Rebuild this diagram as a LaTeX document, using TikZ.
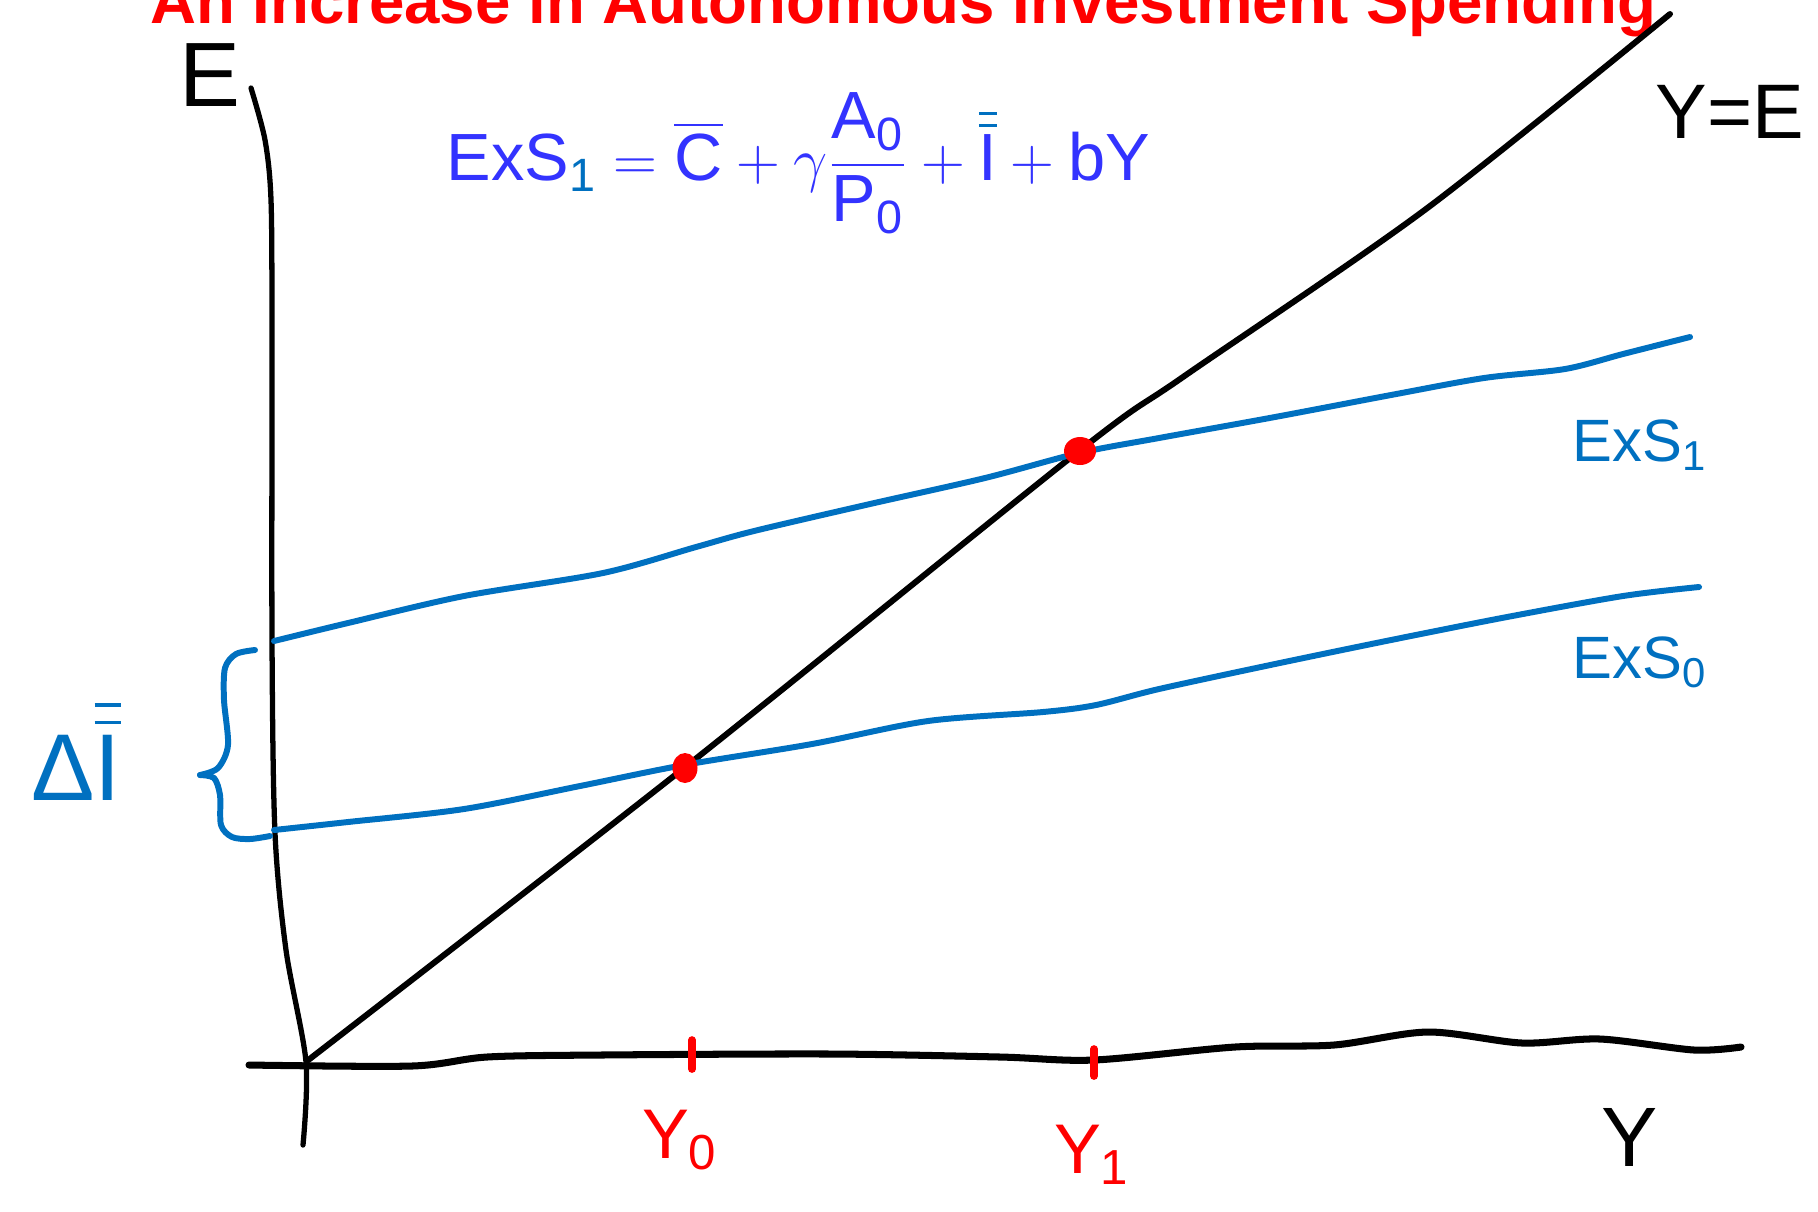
\documentclass[tikz,border=0pt]{standalone}
\usepackage{fontspec}
\setmainfont{Liberation Sans}
\usepackage{amsmath}
\usepackage{xcolor}
\definecolor{exsblue}{HTML}{0070C0}
\definecolor{formblue}{HTML}{3333FF}
\definecolor{titlered}{HTML}{FF0000}

\begin{document}
\begin{tikzpicture}[x=0.1mm,y=-0.1mm,line cap=round,line join=round,
  axis/.style={black,line width=1.7pt},
  exs/.style={exsblue,line width=1.7pt},
  lbl/.style={inner sep=0pt}]
\useasboundingbox (0,0) rectangle (1818,1211);
\clip (0,0) rectangle (1818,1211);
% title (cut at the top)
\node[lbl,anchor=base,text=titlered,font=\fontsize{18.1}{20}\selectfont\bfseries] (title) at (903,23) {An Increase in Autonomous Investment Spending};
% axes
\draw[axis,line width=1.5pt] plot[smooth] coordinates {(251,88) (265,140) (271,200) (272,330) (272,640) (275,833) (286,950) (306,1062) (303,1145)};
\draw[axis,line width=2pt] plot[smooth] coordinates {(249,1065) (412,1066) (487,1057) (600,1055) (831,1054) (1000,1057) (1094,1060) (1235,1047) (1334,1045) (1428,1032) (1522,1043) (1600,1039) (1694,1050) (1741,1047)};
\draw[axis] plot[smooth] coordinates {(307,1061) (684,768) (1079,451) (1183,377) (1426,209) (1670,14)};
% expenditure lines
\draw[exs] plot[smooth] coordinates {(274,641) (348,623) (464,596) (603,573) (696,547) (754,531) (870,504) (985,478) (1079,453) (1159,438) (1275,417) (1391,395) (1484,378) (1565,369) (1623,354) (1690,337)};
\draw[exs] plot[smooth] coordinates {(274,830) (348,822) (464,809) (580,786) (684,765) (812,744) (928,721) (1043,712) (1096,705) (1159,689) (1275,664) (1391,640) (1507,617) (1623,596) (1699,587)};
% brace
\draw[exs] plot[smooth] coordinates {(255,650) (236,654) (225,668) (224,700) (228,745) (218,768) (200,775)};
\draw[exs] plot[smooth] coordinates {(200,775) (214,778) (220,795) (221,825) (232,837) (250,839) (270,836)};
% equilibria
\fill[red] (685,768) ellipse [x radius=1.25mm, y radius=1.5mm];
\fill[red] (1080,451) ellipse [x radius=1.6mm, y radius=1.4mm];
\draw[red,line width=2.2pt] (692,1040) -- (692,1069);
\draw[red,line width=2.2pt] (1094,1049) -- (1094,1076);
% labels
\node[lbl,font=\fontsize{26}{30}\selectfont] (elbl) at (210,75) {E};
\node[lbl,font=\fontsize{22}{26}\selectfont] (yeqe) at (1730,112) {Y=E};
\node[lbl,anchor=base west,text=formblue,font=\fontsize{19}{23}\selectfont] (eq) at (446,180)
  {$\mathrm{ExS}_{\textcolor{exsblue}{\mathrm{1}}} = \overline{\mathrm{C}} + \gamma\dfrac{\mathrm{A}_{\mathrm{0}}}{\mathrm{P}_{\mathrm{0}}} + \textcolor{exsblue}{\overline{\overline{\textcolor{formblue}{\mathrm{I}}}}} + \mathrm{bY}$};
\node[lbl,text=exsblue,font=\fontsize{17}{20}\selectfont] (exs1) at (1640,445) {ExS$_{\mathrm{1}}$};
\node[lbl,text=exsblue,font=\fontsize{17}{20}\selectfont] (exs0) at (1640,662) {ExS$_{\mathrm{0}}$};
\node[lbl,text=exsblue,font=\fontsize{27}{31}\selectfont] (dI) at (76,750) {Δ$\overline{\overline{\mathrm{I}}}$};
\node[lbl,text=red,font=\fontsize{20}{24}\selectfont] (y0) at (680,1140) {Y$_{\mathrm{0}}$};
\node[lbl,text=red,font=\fontsize{20}{24}\selectfont] (y1) at (1092,1155) {Y$_{\mathrm{1}}$};
\node[lbl,font=\fontsize{24}{28}\selectfont] (ylbl) at (1630,1137) {Y};
\end{tikzpicture}
\end{document}
